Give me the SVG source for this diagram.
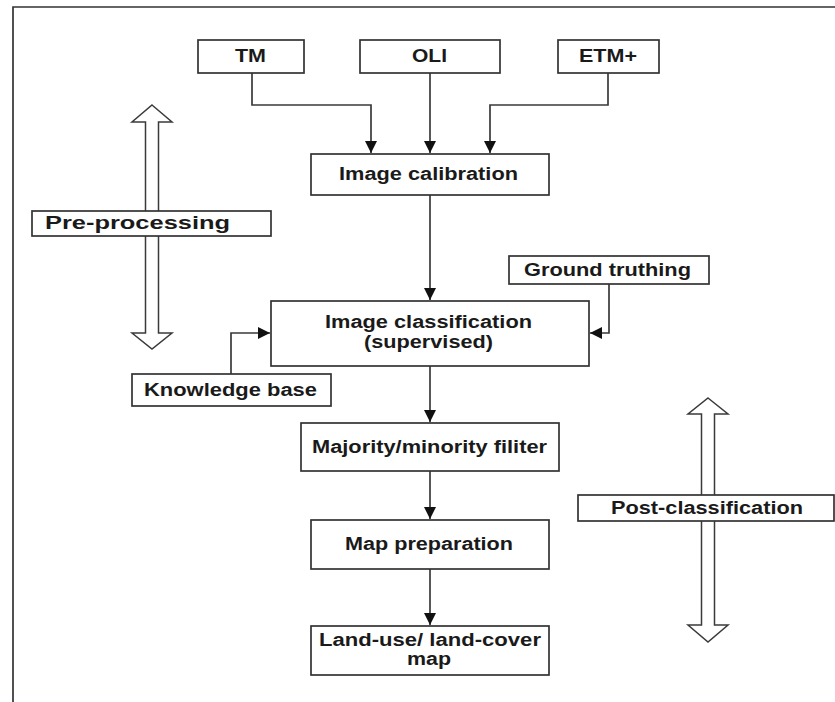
<svg xmlns="http://www.w3.org/2000/svg" width="835" height="702" viewBox="0 0 835 702">
<style>
.box{fill:#fff;stroke:#333;stroke-width:1.7}
.t{font-family:"Liberation Sans",Arial,sans-serif;font-weight:bold;font-size:18px;fill:#1a1a1a}
.c{fill:none;stroke:#3a3a3a;stroke-width:1.7}
.big{fill:#fff;stroke:#3a3a3a;stroke-width:1.5;stroke-linejoin:miter}
</style>
<defs>
<marker id="ah" markerUnits="userSpaceOnUse" markerWidth="12" markerHeight="12" refX="10" refY="5" orient="auto" viewBox="0 0 10 10">
<path d="M0,0 L10,5 L0,10 z" fill="#111"/>
</marker>
</defs>
<rect width="835" height="702" fill="#fff"/>
<path d="M13,702 V7 H835" fill="none" stroke="#333" stroke-width="1.7"/>

<g id="pre-arrow">
<polygon class="big" points="152,105 172,122 158.5,122 158.5,333 172,333 152,349 132,333 145.5,333 145.5,122 132,122"/>
</g>
<g id="post-arrow">
<polygon class="big" points="708,398 728,414 714.5,414 714.5,625 728,625 708,642 688,625 701.5,625 701.5,414 688,414"/>
</g>

<g id="connectors">
<path class="c" d="M252,73 V105 H371 V153" marker-end="url(#ah)"/>
<path class="c" d="M430,73 V153" marker-end="url(#ah)"/>
<path class="c" d="M608,73 V105 H490 V153" marker-end="url(#ah)"/>
<path class="c" d="M430,195 V300" marker-end="url(#ah)"/>
<path class="c" d="M609,284 V333 H590" marker-end="url(#ah)"/>
<path class="c" d="M231,374 V333 H270" marker-end="url(#ah)"/>
<path class="c" d="M430,366 V422" marker-end="url(#ah)"/>
<path class="c" d="M430,471 V519" marker-end="url(#ah)"/>
<path class="c" d="M430,569 V625" marker-end="url(#ah)"/>
</g>

<g id="tm"><rect class="box" x="198" y="40" width="106" height="33"/><text class="t" x="235" y="62" textLength="31" lengthAdjust="spacingAndGlyphs">TM</text></g>
<g id="oli"><rect class="box" x="360" y="40" width="140" height="33"/><text class="t" x="412" y="62" textLength="35" lengthAdjust="spacingAndGlyphs">OLI</text></g>
<g id="etm"><rect class="box" x="558" y="40" width="101" height="33"/><text class="t" x="579" y="62" textLength="58" lengthAdjust="spacingAndGlyphs">ETM+</text></g>
<g id="calibration"><rect class="box" x="311" y="154" width="238" height="41"/><text class="t" x="339" y="180" textLength="179" lengthAdjust="spacingAndGlyphs">Image calibration</text></g>
<g id="preprocessing"><rect class="box" x="32" y="211" width="239" height="25"/><text class="t" x="45" y="229" textLength="185" lengthAdjust="spacingAndGlyphs">Pre-processing</text></g>
<g id="ground"><rect class="box" x="509" y="256" width="200" height="28"/><text class="t" x="524" y="276" textLength="167" lengthAdjust="spacingAndGlyphs">Ground truthing</text></g>
<g id="classification"><rect class="box" x="271" y="301" width="318" height="65"/><text class="t" x="325" y="328" textLength="207" lengthAdjust="spacingAndGlyphs">Image classification</text><text class="t" x="364" y="348" textLength="129" lengthAdjust="spacingAndGlyphs">(supervised)</text></g>
<g id="knowledge"><rect class="box" x="132" y="374" width="199" height="32"/><text class="t" x="144" y="396" textLength="173" lengthAdjust="spacingAndGlyphs">Knowledge base</text></g>
<g id="majority"><rect class="box" x="301" y="423" width="258" height="48"/><text class="t" x="312" y="453" textLength="235" lengthAdjust="spacingAndGlyphs">Majority/minority filiter</text></g>
<g id="postclass"><rect class="box" x="578" y="495" width="256" height="26"/><text class="t" x="611" y="514" textLength="192" lengthAdjust="spacingAndGlyphs">Post-classification</text></g>
<g id="mapprep"><rect class="box" x="311" y="520" width="238" height="49"/><text class="t" x="345" y="550" textLength="168" lengthAdjust="spacingAndGlyphs">Map preparation</text></g>
<g id="landuse"><rect class="box" x="311" y="626" width="238" height="49"/><text class="t" x="319" y="646" textLength="222" lengthAdjust="spacingAndGlyphs">Land-use/ land-cover</text><text class="t" x="407" y="665" textLength="44" lengthAdjust="spacingAndGlyphs">map</text></g>
</svg>
